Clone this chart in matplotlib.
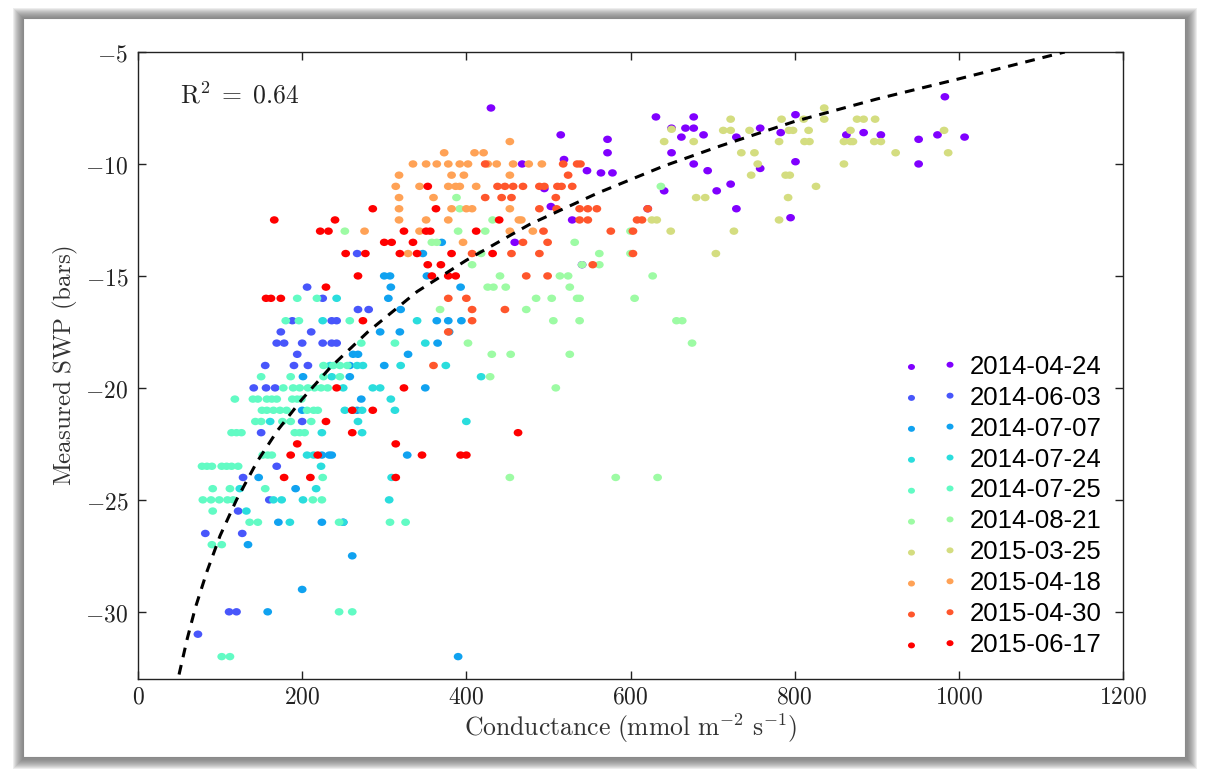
import numpy as np
import matplotlib
matplotlib.use('Agg')
import matplotlib.pyplot as plt
from matplotlib.patches import Rectangle
from matplotlib.path import Path
from matplotlib.ticker import FuncFormatter, MultipleLocator

plt.rcParams['mathtext.fontset'] = 'cm'

# series labels (sampling dates)
dates = ['2014-04-24', '2014-06-03', '2014-07-07', '2014-07-24', '2014-07-25',
         '2014-08-21', '2015-03-25', '2015-04-18', '2015-04-30', '2015-06-17']

# (conductance, SWP), one list per date
pts_20140424 = [(430, -7.5), (468, -10), (459, -13.5), (631, -7.9), (677, -7.9), (515, -8.7), (572, -8.9),
                (650, -8.4), (667, -8.4), (677, -8.4), (689, -8.7), (662, -8.8), (572, -9.5), (650, -9.5),
                (519, -9.8), (547, -10.3), (564, -10.4), (578, -10.4), (677, -10), (694, -10.3), (705, -11.2),
                (641, -11.2), (495, -11.1), (503, -11.9), (529, -12.5), (621, -12), (541, -14.5), (729, -8.8),
                (758, -8.4), (783, -8.6), (801, -7.8), (863, -8.7), (884, -8.6), (905, -8.7), (983, -7),
                (974, -8.7), (1007, -8.8), (951, -8.9), (951, -10), (801, -9.9), (758, -10.2), (722, -10.9),
                (729, -12), (795, -12.4)]
pts_20140603 = [(206, -15.5), (225, -16), (188, -17), (236, -17), (242, -17), (174, -17.5), (211, -17.5),
                (169, -18), (178, -18), (200, -18), (225, -18), (236, -18), (242, -18), (194, -18.5),
                (155, -19), (190, -19), (207, -19), (141, -20), (156, -20), (167, -20), (200, -21.5),
                (150, -22), (169, -23.5), (128, -24), (160, -25), (122, -25.5), (82, -26.5), (127, -26.5),
                (111, -30), (120, -30), (73, -31), (267, -14), (268, -16.5), (281, -16.5), (250, -26)]
pts_20140707 = [(201, -19.5), (224, -23), (233, -23), (147, -24), (192, -24.5), (171, -26), (224, -26),
                (134, -27), (200, -29), (158, -30), (370, -13.5), (347, -14), (300, -15), (307, -15),
                (352, -15), (308, -15.5), (393, -15.5), (305, -16), (320, -16.5), (364, -17), (378, -17),
                (394, -17), (379, -17.5), (295, -17.5), (319, -17.5), (365, -18), (262, -18.5), (268, -18.5),
                (329, -18.5), (258, -19), (300, -19), (258, -19.5), (350, -20), (272, -20.5), (267, -21),
                (236, -23), (328, -23), (261, -27.5), (390, -32), (200, -21)]
pts_20140724 = [(225, -17), (234, -19), (236, -19.5), (161, -21.5), (224, -22), (206, -23), (214, -23),
                (223, -23.5), (124, -24.5), (217, -24.5), (165, -25), (175, -25), (201, -25), (132, -25.5),
                (185, -26), (242, -16), (340, -17), (350, -18), (267, -19), (274, -19), (320, -19), (375, -19),
                (418, -19.5), (250, -20), (286, -20), (295, -20), (308, -20.5), (252, -21), (262, -21),
                (273, -21), (313, -21), (268, -21.5), (400, -21.5), (273, -22), (309, -24), (306, -25), (250, -26)]
pts_20140725 = [(194, -16), (218, -16), (180, -17), (196, -17), (258, -17), (272, -18), (313, -18),
                (226, -19), (238, -19), (246, -19), (255, -19), (150, -19.5), (186, -19.5), (226, -19.5),
                (246, -19.5), (177, -20), (189, -20), (197, -20), (207, -20), (215, -20), (223, -20), (231, -20),
                (118, -20.5), (140, -20.5), (146, -20.5), (157, -20.5), (163, -20.5), (169, -20.5), (188, -20.5),
                (194, -20.5), (199, -20.5), (151, -21), (157, -21), (165, -21), (173, -21), (181, -21),
                (206, -21), (214, -21), (219, -21), (143, -21.5), (150, -21.5), (176, -21.5), (186, -21.5),
                (211, -21.5), (114, -22), (120, -22), (126, -22), (191, -22), (197, -22), (203, -22),
                (152, -23), (158, -23), (163, -23), (78, -23.5), (84, -23.5), (90, -23.5), (102, -23.5),
                (108, -23.5), (114, -23.5), (122, -23.5), (225, -24), (91, -24.5), (112, -24.5), (155, -24.5),
                (79, -25), (89, -25), (99, -25), (109, -25), (116, -25), (213, -25), (224, -25), (91, -25.5),
                (136, -26), (146, -26), (245, -26), (307, -26), (326, -26), (90, -27), (102, -27),
                (245, -30), (261, -30), (102, -32), (112, -32)]
pts_20140821 = [(388, -11.5), (392, -12), (252, -13), (390, -13), (423, -13), (358, -13.5), (364, -13.5),
                (418, -14), (407, -14.5), (441, -15), (426, -15.5), (433, -15.5), (448, -15.5), (432, -12.5),
                (637, -11), (532, -13.5), (562, -14), (600, -14), (600, -13), (541, -14.5), (562, -14.5),
                (514, -15), (524, -15), (627, -15), (526, -15.5), (485, -16), (504, -16), (535, -16), (538, -16),
                (605, -16), (473, -16.5), (368, -16.5), (506, -17), (538, -17), (656, -17), (663, -17),
                (675, -18), (526, -18.5), (402, -18), (431, -18.5), (454, -18.5), (429, -19.5), (509, -20),
                (453, -24), (582, -24), (633, -24)]
pts_20150325 = [(650, -8.45), (641, -9), (677, -9), (680, -11.5), (691, -11.5), (626, -12.5), (632, -12.5),
                (649, -13), (704, -14), (722, -8), (713, -8.5), (722, -8.5), (745, -8.5), (784, -8), (793, -8.5),
                (798, -8.5), (811, -8), (817, -8.5), (836, -7.5), (836, -8), (876, -8), (884, -8), (898, -8),
                (868, -8.5), (982, -8.5), (781, -9), (812, -9), (818, -9), (860, -9), (868, -9), (871, -9),
                (897, -9), (905, -9), (735, -9.5), (751, -9.5), (923, -9.5), (987, -9.5), (755, -10), (860, -10),
                (747, -10.5), (789, -10.5), (794, -10.5), (826, -11), (792, -11.5), (781, -12.5), (726, -13)]
pts_20150418 = [(453, -9), (373, -9.5), (410, -9.5), (421, -9.5), (335, -10), (351, -10), (364, -10),
                (378, -10), (392, -10), (402, -10), (426, -10), (437, -10), (457, -10), (318, -10.5),
                (382, -10.5), (397, -10.5), (453, -10.5), (314, -11), (343, -11), (378, -11), (387, -11),
                (392, -11), (412, -11), (318, -11.5), (360, -11.5), (318, -12), (382, -12), (400, -12),
                (407, -12), (453, -12), (318, -12.5), (351, -12.5), (378, -12.5), (464, -12.5), (276, -13),
                (343, -13), (453, -13), (329, -14), (396, -13.5), (476, -10), (492, -10), (481, -13), (467, -12.5)]
pts_20150430 = [(423, -10), (438, -11), (447, -11), (457, -11), (469, -11), (423, -11.5), (443, -11.5),
                (455, -11.5), (407, -14), (455, -14), (473, -15), (378, -16), (400, -16), (407, -16.5),
                (447, -16.5), (407, -17), (378, -17.5), (360, -19), (518, -10), (535, -10), (539, -10),
                (524, -10.5), (489, -11), (495, -11), (511, -11), (516, -11), (529, -11), (509, -11.5),
                (489, -12), (510, -12), (538, -12), (548, -12), (559, -12), (621, -12), (538, -12.5),
                (548, -12.5), (608, -12.5), (614, -12.5), (494, -13), (576, -13), (603, -13), (469, -13.5),
                (499, -13.5), (489, -14), (603, -14), (554, -14.5), (499, -15)]
pts_20150617 = [(166, -12.5), (240, -12.5), (222, -13), (232, -13), (229, -15.5), (156, -16), (162, -16),
                (174, -16), (242, -20), (229, -21.5), (194, -22.5), (186, -23), (219, -23), (178, -24),
                (210, -24), (286, -12), (353, -11), (363, -12), (440, -12.5), (324, -13), (351, -13),
                (356, -13), (412, -13), (300, -13.5), (309, -13.5), (335, -13.5), (253, -14), (277, -14),
                (319, -14), (340, -14), (382, -14), (432, -14), (353, -14.5), (369, -14.5), (268, -15),
                (358, -15), (378, -15), (387, -15), (274, -17), (324, -20), (261, -21), (286, -21),
                (261, -22), (463, -22), (314, -22.5), (346, -23), (393, -23), (400, -23), (314, -24)]

all_pts = [pts_20140424, pts_20140603, pts_20140707, pts_20140724, pts_20140725,
           pts_20140821, pts_20150325, pts_20150418, pts_20150430, pts_20150617]

# dashed fit curve
fit_g = [50, 60, 70, 84, 100, 120, 145, 170, 200, 234, 280, 340, 400, 477, 560, 640, 709, 800, 900, 1000, 1129]
fit_swp = [-32.8, -31.2, -29.8, -28.2, -26.6, -25.0, -23.3, -21.9, -20.5, -19.1, -17.5, -15.7, -14.3,
           -12.7, -11.3, -10.1, -9.2, -8.1, -7.1, -6.2, -5.0]

W, H = 1208, 775
fig = plt.figure(figsize=(W / 100.0, H / 100.0), dpi=100)
fig.patch.set_facecolor('white')

def px_rect(x0, y0, x1, y1, **kw):
    # rectangle given in pixel coords (origin top-left)
    return Rectangle((x0 / W, 1 - y1 / H), (x1 - x0) / W, (y1 - y0) / H,
                     transform=fig.transFigure, **kw)

# soft grey shadow behind the white panel
for k in range(10, 0, -1):
    fig.patches.append(px_rect(23 - k, 18 - k, 1185 + k + 2, 757 + k + 2,
                               facecolor='#606060', edgecolor='none', alpha=0.11, zorder=0))
fig.patches.append(px_rect(23, 18, 1185, 757, facecolor='white', edgecolor='#8a8a8a',
                           linewidth=0.8, zorder=1))

ax = fig.add_axes([138 / W, 1 - 679 / H, (1123 - 138) / W, (679 - 52) / H])
ax.set_zorder(2)

# slightly wide dots (the picture is stretched sideways)
circ = Path.unit_circle()
ell = Path(circ.vertices * np.array([1.18, 1.0]), circ.codes)

colors = plt.cm.rainbow(np.linspace(0, 1, len(dates)))
for lab, pts, c in zip(dates, all_pts, colors):
    g = [p[0] for p in pts]
    s = [p[1] for p in pts]
    ax.scatter(g, s, s=40, marker=ell, color=c, edgecolors='none', label=lab, zorder=3)

ax.plot(fit_g, fit_swp, 'k--', lw=2.2, dashes=(3.2, 2.6), zorder=4)

ax.set_xlim(0, 1200)
ax.set_ylim(-33, -5)
ax.xaxis.set_major_locator(MultipleLocator(200))
ax.yaxis.set_major_locator(MultipleLocator(5))
fmt = FuncFormatter(lambda v, p: r'$%d$' % v)
ax.xaxis.set_major_formatter(fmt)
ax.yaxis.set_major_formatter(fmt)
ax.tick_params(direction='in', top=True, right=True, length=6, width=1,
               labelsize=17, colors='#222222')
ax.tick_params(axis='x', pad=4)
ax.tick_params(axis='y', pad=7)
for sp in ax.spines.values():
    sp.set_linewidth(1.0)
    sp.set_color('#222222')

ax.set_xlabel(r'$\mathrm{Conductance\ (mmol\ m^{-2}\ s^{-1})}$', fontsize=18.5, labelpad=2, color='#333333')
ax.set_ylabel(r'$\mathrm{Measured\ SWP\ (bars)}$', fontsize=18, labelpad=4, color='#333333')
ax.text(0.043, 0.93, r'$\mathrm{R}^2\;=\;0.64$', transform=ax.transAxes, fontsize=18.5,
        va='center', ha='left', color='#222222')

leg = ax.legend(loc='lower right', frameon=False, scatterpoints=2, markerscale=0.8,
                prop={'family': 'Liberation Sans', 'size': 18.5}, handlelength=2.1,
                handletextpad=0.45, labelspacing=0.27, borderaxespad=0.45)

fig.savefig('out.png', dpi=100, facecolor=fig.get_facecolor())
